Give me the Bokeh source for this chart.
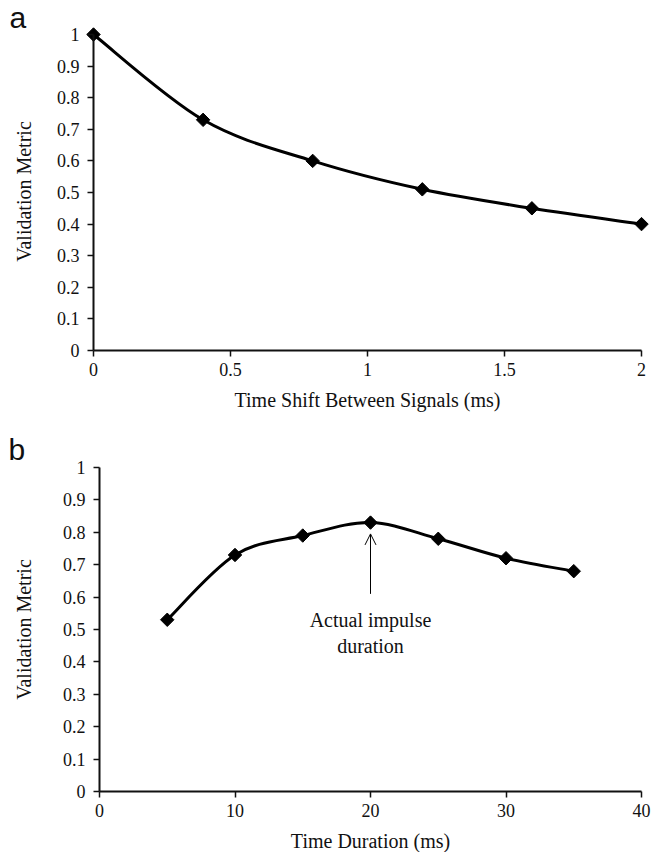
import math
from bokeh.plotting import figure
from bokeh.layouts import column
from bokeh.models import Range1d, FixedTicker, NumeralTickFormatter, Label, Arrow, OpenHead
from bokeh.embed import file_html
from bokeh.resources import INLINE

# ---------------- data ----------------
shift_ms = [0.0, 0.4, 0.8, 1.2, 1.6, 2.0]
metric_a = [1.0, 0.73, 0.60, 0.51, 0.45, 0.40]

duration_ms = [5, 10, 15, 20, 25, 30, 35]
metric_b = [0.53, 0.73, 0.79, 0.83, 0.78, 0.72, 0.68]

y_ticks = [0, 0.1, 0.2, 0.3, 0.4, 0.5, 0.6, 0.7, 0.8, 0.9, 1.0]
x_ticks_a = [0, 0.5, 1, 1.5, 2]
x_ticks_b = [0, 10, 20, 30, 40]

y_title = "Validation Metric"
x_title_a = "Time Shift Between Signals (ms)"
x_title_b = "Time Duration (ms)"

annot_x = 20
annot_arrow = (0.61, 0.795)
annot_lines = ["Actual impulse", "duration"]
annot_y = [0.529, 0.449]

SERIF = "Liberation Serif"
SANS = "Liberation Sans"
W = 654


def smooth_segments(xs, ys):
    """Excel-style smoothed line: cubic Bezier segments (Catmull-Rom) through the points."""
    n = len(xs)
    x0, y0, x1, y1, cx0, cy0, cx1, cy1 = [], [], [], [], [], [], [], []
    for i in range(n - 1):
        pm = i - 1 if i > 0 else 0
        pp = i + 2 if i + 2 < n else n - 1
        x0.append(xs[i]); y0.append(ys[i])
        x1.append(xs[i + 1]); y1.append(ys[i + 1])
        cx0.append(xs[i] + (xs[i + 1] - xs[pm]) / 6.0)
        cy0.append(ys[i] + (ys[i + 1] - ys[pm]) / 6.0)
        cx1.append(xs[i + 1] - (xs[pp] - xs[i]) / 6.0)
        cy1.append(ys[i + 1] - (ys[pp] - ys[i]) / 6.0)
    return dict(x0=x0, y0=y0, x1=x1, y1=y1, cx0=cx0, cy0=cy0, cx1=cx1, cy1=cy1)


class Panel:
    """Figure whose frame fills the whole canvas; axes are pinned at x=0 / y=0."""

    def __init__(self, xmax, xticks, height, ax_left, ax_right, ax_top, ax_bottom):
        self.ux = (ax_right - ax_left) / xmax
        self.uy = (ax_bottom - ax_top) / 1.0
        self.ax_left = ax_left
        self.ax_bottom = ax_bottom
        p = figure(width=W, height=height, output_backend="svg", toolbar_location=None,
                   x_range=Range1d(-ax_left / self.ux, (W - ax_left) / self.ux),
                   y_range=Range1d(-(height - ax_bottom) / self.uy, ax_bottom / self.uy),
                   min_border=0)
        p.xgrid.visible = False
        p.ygrid.visible = False
        p.outline_line_color = None
        p.background_fill_color = "white"
        p.border_fill_color = "white"
        for ax in (p.xaxis[0], p.yaxis[0]):
            ax.fixed_location = 0
            ax.axis_line_width = 2
            ax.axis_line_color = "#111111"
            ax.major_tick_line_width = 1.5
            ax.major_tick_line_color = "#111111"
            ax.major_tick_in = 0
            ax.major_tick_out = 6
            ax.minor_tick_line_color = None
            ax.major_label_text_font = SERIF
            ax.major_label_text_font_size = "18px"
            ax.major_label_text_color = "#111111"
        p.yaxis.ticker = FixedTicker(ticks=y_ticks)
        p.yaxis.formatter = NumeralTickFormatter(format="0.[0]")
        p.yaxis.major_label_standoff = 8
        p.yaxis.bounds = (0, 1)
        p.xaxis.ticker = FixedTicker(ticks=xticks)
        p.xaxis.formatter = NumeralTickFormatter(format="0.[0]")
        p.xaxis.major_label_standoff = 6
        p.xaxis.bounds = (0, xmax)
        self.p = p

    # pixel (figure coords, y down) -> data
    def dx(self, px):
        return (px - self.ax_left) / self.ux

    def dy(self, py):
        return (self.ax_bottom - py) / self.uy

    def text(self, px, py, txt, size, font=SERIF, align="center", angle=0.0):
        self.p.add_layout(Label(x=self.dx(px), y=self.dy(py), text=txt, text_font=font,
                                text_font_size=size, text_align=align, text_baseline="middle",
                                angle=angle, text_color="#111111"))

    def series(self, xs, ys):
        seg = smooth_segments(xs, ys)
        self.p.bezier(x0="x0", y0="y0", x1="x1", y1="y1", cx0="cx0", cy0="cy0",
                      cx1="cx1", cy1="cy1", source=seg, line_color="black", line_width=3)
        self.p.scatter(xs, ys, marker="square", size=9.5, angle=math.pi / 4,
                       fill_color="black", line_color="black")


H_A = 420
H_B = 852 - H_A

# ---------------- panel a ----------------
A = Panel(2, x_ticks_a, height=H_A, ax_left=93, ax_right=641, ax_top=34, ax_bottom=350)
A.series(shift_ms, metric_a)
A.text(23, 191, y_title, "20px", angle=math.pi / 2)
A.text((93 + 641) / 2, 399, x_title_a, "20px")
A.text(9, 17, "a", "30px", font=SANS, align="left")

# ---------------- panel b ----------------
B = Panel(40, x_ticks_b, height=H_B, ax_left=99, ax_right=641, ax_top=467 - H_A, ax_bottom=791 - H_A)
B.series(duration_ms, metric_b)
B.p.add_layout(Arrow(x_start=annot_x, y_start=annot_arrow[0], x_end=annot_x, y_end=annot_arrow[1],
                     line_color="black", line_width=1,
                     end=OpenHead(size=11, line_width=1, line_color="black")))
for txt, yy in zip(annot_lines, annot_y):
    B.p.add_layout(Label(x=annot_x, y=yy, text=txt, text_font=SERIF, text_font_size="20px",
                         text_align="center", text_baseline="middle", text_color="#111111"))
B.text(23, 629 - H_A, y_title, "20px", angle=math.pi / 2)
B.text((99 + 641) / 2, 840 - H_A, x_title_b, "20px")
B.text(8, 449 - H_A, "b", "30px", font=SANS, align="left")

layout = column(A.p, B.p, spacing=0)
open("out.html", "w").write(file_html(layout, INLINE))
